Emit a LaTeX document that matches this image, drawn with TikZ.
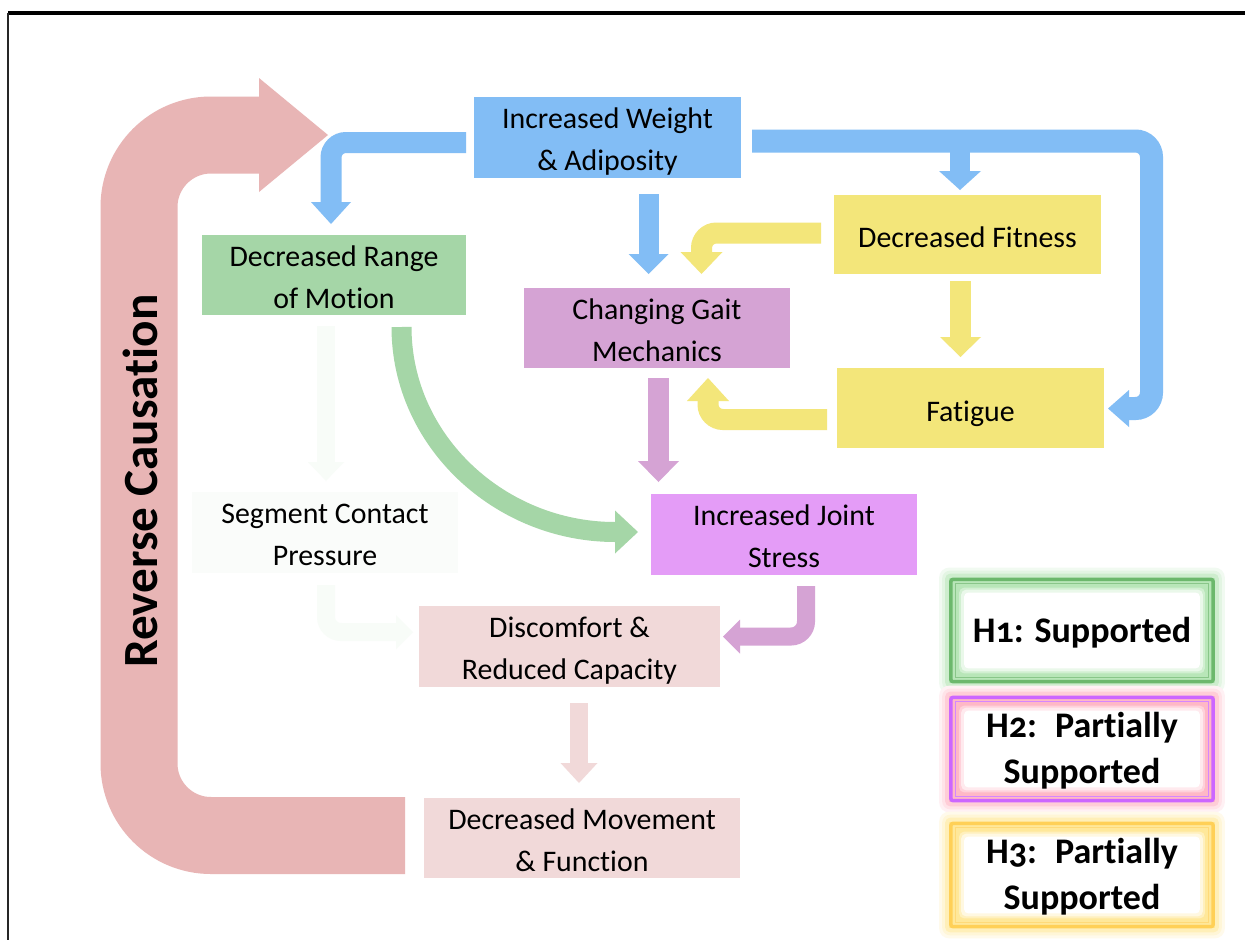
\documentclass[tikz,border=0pt]{standalone}
\usepackage{fontspec}
\setmainfont[Ligatures=NoCommon]{Carlito}
\newfontfamily\legfont[Ligatures=NoCommon,Numbers=OldStyle]{Carlito}
\usetikzlibrary{backgrounds,calc}
\newdimen\PX \PX=0.02cm
\definecolor{cBlue}{RGB}{130,189,245}
\definecolor{cGreen}{RGB}{165,214,167}
\definecolor{cGait}{RGB}{213,163,212}
\definecolor{cYel}{RGB}{243,230,122}
\definecolor{cJoint}{RGB}{228,156,247}
\definecolor{cPink}{RGB}{241,217,217}
\definecolor{cRev}{RGB}{232,181,181}
\definecolor{cFaint}{RGB}{248,252,248}
\definecolor{cSeg}{RGB}{250,252,250}
\definecolor{hOneB}{RGB}{108,184,108}
\definecolor{hOneG}{RGB}{184,230,184}
\definecolor{hTwoB}{RGB}{204,102,255}
\definecolor{hTwoG}{RGB}{255,184,198}
\definecolor{hThrB}{RGB}{255,208,87}
\definecolor{hThrG}{RGB}{255,232,154}
% arrow head: colour, base coordinate, angle, length, width
\newcommand\ahead[5]{\fill[#1,shift={(#2)},rotate=#3] (0,{#5/2}) -- (#4,0) -- (0,{-#5/2}) -- cycle;}
% legend box decoration: node name, border colour, glow colour
\newcommand\legdeco[3]{%
  \begin{scope}[on background layer]
  \fill[#3!20, rounded corners=10\PX] ([shift={(-10,-10)}]#1.north west) rectangle ([shift={(10,10)}]#1.south east);
  \fill[#3!40, rounded corners=8\PX] ([shift={(-7,-7)}]#1.north west) rectangle ([shift={(7,7)}]#1.south east);
  \fill[#3!70, rounded corners=5\PX] ([shift={(-4,-4)}]#1.north west) rectangle ([shift={(4,4)}]#1.south east);
  \fill[#3] (#1.north west) rectangle (#1.south east);
  \fill[#3!65, rounded corners=5\PX] ([shift={(10,10)}]#1.north west) rectangle ([shift={(-10,-10)}]#1.south east);
  \fill[#3!30, rounded corners=5\PX] ([shift={(12,12)}]#1.north west) rectangle ([shift={(-12,-12)}]#1.south east);
  \fill[white, rounded corners=4\PX] ([shift={(15,15)}]#1.north west) rectangle ([shift={(-15,-15)}]#1.south east);
  \draw[#2, line width=3.5\PX, rounded corners=2\PX] ([shift={(1.75,1.75)}]#1.north west) rectangle ([shift={(-1.75,-1.75)}]#1.south east);
  \draw[#2!80, line width=0.8\PX] ([shift={(6,6)}]#1.north west) rectangle ([shift={(-6,-6)}]#1.south east);
  \end{scope}}
\begin{document}
\begin{tikzpicture}[x=0.02cm,y=-0.02cm,
  box/.style={inner sep=0pt, align=center, text=black, font=\fontsize{17}{24}\selectfont},
  twoline/.style={text height=38pt, text depth=0pt},
  oneline/.style={text height=16pt, text depth=0.7pt},
  legbox/.style={inner sep=0pt, align=center, text=black, minimum width=265\PX, font=\legfont\fontsize{20.5}{26}\selectfont\bfseries},
  shaft/.style={line width=#1\PX}]
\useasboundingbox (0,0) rectangle (1245,940);
\begin{scope}[on background layer]
\fill[white] (0,0) rectangle (1245,940);
\end{scope}
% frame lines
\coordinate (fTL) at (8,12.5);
\coordinate (fTR) at (1245,12.5);
\coordinate (fBL) at (8,940);
\draw[black, line width=4\PX] (fTL) -- (fTR);
\draw[black!85, line width=1.5\PX] (fTL) -- (fBL);

% reverse causation arrow
\coordinate (rv1) at (405,835.5);
\coordinate (rv2) at (139,835.5);
\coordinate (rv3) at (139,135);
\coordinate (rvb) at (259,135);
\draw[cRev, shaft=77, rounded corners=72\PX] (rv1) -- (rv2) -- (rv3) -- (rvb);
\ahead{cRev}{rvb}{0}{69}{114}
\node[rotate=90, inner sep=0pt, font=\fontsize{28}{32}\selectfont\bfseries] (rev) at (140,481) {Reverse Causation};

% nodes
\node[box, twoline, fill=cBlue, minimum width=267\PX, minimum height=81\PX] (weight) at (607.5,137.5) {Increased Weight\\\& Adiposity};
\node[box, twoline, fill=cGreen, minimum width=264\PX, minimum height=80\PX] (rom) at (334,275) {Decreased Range\\of Motion};
\node[box, twoline, fill=cGait, minimum width=266\PX, minimum height=80\PX] (gait) at (657,328) {Changing Gait\\Mechanics};
\node[box, oneline, fill=cYel, minimum width=267\PX, minimum height=79\PX] (fitness) at (967.5,234.5) {Decreased Fitness};
\node[box, oneline, fill=cYel, minimum width=267\PX, minimum height=80\PX] (fatigue) at (970.5,408) {Fatigue};
\node[box, twoline, fill=cJoint, minimum width=266\PX, minimum height=81\PX] (joint) at (784,534.5) {Increased Joint\\Stress};
\node[box, twoline, fill=cSeg, minimum width=266\PX, minimum height=81\PX] (segment) at (325,532.5) {Segment Contact\\Pressure};
\node[box, twoline, fill=cPink, minimum width=301\PX, minimum height=81\PX] (discomfort) at (569.5,646.5) {Discomfort \&\\Reduced Capacity};
\node[box, twoline, fill=cPink, minimum width=316\PX, minimum height=80\PX] (movement) at (582,838) {Decreased Movement\\\& Function};

% blue arrows
\coordinate (b1s) at (466,142.5);
\coordinate (b1c) at (331,142.5);
\coordinate (b1b) at (331,202);
\draw[cBlue, shaft=21, rounded corners=15\PX] (b1s) -- (b1c) -- (b1b);
\ahead{cBlue}{b1b}{-90}{22}{40}
\coordinate (b2s) at (648.5,194);
\coordinate (b2b) at (648.5,254);
\draw[cBlue, shaft=20] (b2s) -- (b2b);
\ahead{cBlue}{b2b}{-90}{20}{40}
\coordinate (b3s) at (752,141);
\coordinate (b3c) at (1151.5,141);
\coordinate (b3d) at (1151.5,408.5);
\coordinate (b3b) at (1129,408.5);
\draw[cBlue, shaft=23, rounded corners=16\PX] (b3s) -- (b3c) -- (b3d) -- (b3b);
\ahead{cBlue}{b3b}{180}{21}{37}
\coordinate (b4s) at (960,150);
\coordinate (b4b) at (960,171);
\draw[cBlue, shaft=20] (b4s) -- (b4b);
\ahead{cBlue}{b4b}{-90}{19}{42}

% yellow arrows
\coordinate (y1s) at (821,233);
\coordinate (y1c) at (701.5,233);
\coordinate (y1b) at (701.5,252);
\draw[cYel, shaft=21, rounded corners=15\PX] (y1s) -- (y1c) -- (y1b);
\ahead{cYel}{y1b}{-90}{22}{42}
\coordinate (y2s) at (960.5,281);
\coordinate (y2b) at (960.5,337);
\draw[cYel, shaft=21] (y2s) -- (y2b);
\ahead{cYel}{y2b}{-90}{20}{41}
\coordinate (y3s) at (827,419.5);
\coordinate (y3c) at (708,419.5);
\coordinate (y3b) at (708,401);
\draw[cYel, shaft=21, rounded corners=15\PX] (y3s) -- (y3c) -- (y3b);
\ahead{cYel}{y3b}{90}{23}{42}

% purple arrows
\coordinate (p1s) at (658.5,378);
\coordinate (p1b) at (658.5,461);
\draw[cGait, shaft=21] (p1s) -- (p1b);
\ahead{cGait}{p1b}{-90}{21}{41}
\coordinate (p2s) at (806,586);
\coordinate (p2c) at (806,636.5);
\coordinate (p2b) at (740,636.5);
\draw[cGait, shaft=18, rounded corners=15\PX] (p2s) -- (p2c) -- (p2b);
\ahead{cGait}{p2b}{180}{17}{34}

% green curved arrow
\coordinate (g1s) at (401.5,327);
\coordinate (g1b) at (615,532);
\draw[cGreen, shaft=20] (g1s) .. controls (401.5,441) and (500,532) .. (g1b);
\ahead{cGreen}{g1b}{0}{23}{43}

% faint arrows
\coordinate (f1s) at (326,326);
\coordinate (f1b) at (326,462);
\draw[cFaint, shaft=18] (f1s) -- (f1b);
\ahead{cFaint}{f1b}{-90}{19}{36}
\coordinate (f2s) at (326,585);
\coordinate (f2c) at (326,632);
\coordinate (f2b) at (396,632);
\draw[cFaint, shaft=18, rounded corners=15\PX] (f2s) -- (f2c) -- (f2b);
\ahead{cFaint}{f2b}{0}{17}{34}

% pink arrow
\coordinate (k1s) at (579,703);
\coordinate (k1b) at (579,763);
\draw[cPink, shaft=18] (k1s) -- (k1b);
\ahead{cPink}{k1b}{-90}{20}{37}

% legend
\node[legbox, text height=14pt, text depth=0.6pt, minimum height=105\PX] (h1) at (1082,630.5) {H1: Supported};
\node[legbox, text height=40pt, text depth=0.6pt, minimum height=106\PX] (h2) at (1082,749) {H2:\enspace Partially\\Supported};
\node[legbox, text height=40pt, text depth=0.6pt, minimum height=106\PX] (h3) at (1082,875) {H3:\enspace Partially\\Supported};
\legdeco{h1}{hOneB}{hOneG}
\legdeco{h2}{hTwoB}{hTwoG}
\legdeco{h3}{hThrB}{hThrG}
\end{tikzpicture}
\end{document}
